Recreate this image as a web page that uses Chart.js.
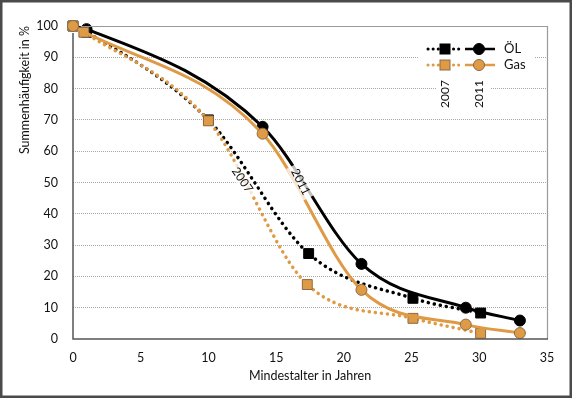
<!DOCTYPE html>
<html>
<head>
<meta charset="utf-8">
<script src="https://cdn.jsdelivr.net/npm/chart.js@4.4.1/dist/chart.umd.min.js"></script>
<style>
  html, body { margin: 0; padding: 0; background: #fff; }
  canvas { display: block; }
</style>
</head>
<body>
<canvas id="chart" width="572" height="398"></canvas>
<script>
// ---- data ----
const ageOil2007 = [0, 1, 10, 17.4, 25.1, 30.1];
const oil2007    = [100, 98, 70, 27.3, 13, 8.3];
const ageGas2007 = [0, 0.8, 10, 17.3, 25.1, 30.1];
const gas2007    = [100, 98, 69.7, 17.4, 6.6, 1.8];
const ageOil2011 = [0, 1, 14, 21.3, 29, 33];
const oil2011    = [100, 99, 67.8, 24, 10, 5.9];
const ageGas2011 = [0, 14, 21.3, 29, 33];
const gas2011    = [100, 65.6, 15.7, 4.6, 1.9];

const yearLabels  = ['2007', '2011'];
const yearLabelX  = [12.5, 16.8];
const yearLabelY  = [50.8, 50.2];
const fuelNames   = ['ÖL', 'Gas'];

const BLACK = '#000000';
const ORANGE = '#df9a45';
const ORANGE_EDGE = '#8c6a45';
const FONT = 'Lato, "Open Sans", sans-serif';

function pts(xs, ys) {
    return xs.map((x, i) => ({ x: x, y: ys[i] }));
}

const dotted = {
    borderWidth: 3.5,
    borderDash: [0.1, 6],
    borderCapStyle: 'round',
    cubicInterpolationMode: 'monotone',
    pointStyle: 'rect',
    pointRadius: 7,
    pointBorderWidth: 1,
    clip: false
};
const solid = {
    borderWidth: 3,
    cubicInterpolationMode: 'monotone',
    pointStyle: 'circle',
    pointRadius: 5.5,
    pointBorderWidth: 1,
    clip: false
};

// frame, inline year labels, legend
const decorPlugin = {
    id: 'decor',
    afterDatasetsDraw(chart) {
        const ctx = chart.ctx;
        const xs = chart.scales.x, ys = chart.scales.y;
        const angles = [55 * Math.PI / 180, 63 * Math.PI / 180];
        ctx.save();
        ctx.font = '12px ' + FONT;
        ctx.textAlign = 'center';
        ctx.textBaseline = 'middle';
        yearLabels.forEach((t, i) => {
            const px = xs.getPixelForValue(yearLabelX[i]);
            const py = ys.getPixelForValue(yearLabelY[i]);
            ctx.save();
            ctx.translate(px, py);
            ctx.rotate(angles[i]);
            const w = ctx.measureText(t).width;
            ctx.fillStyle = 'rgba(255,255,255,0.75)';
            ctx.fillRect(-w / 2 - 4, -7, w + 8, 14);
            ctx.fillStyle = '#111';
            ctx.fillText(t, 0, 0);
            ctx.restore();
        });
        ctx.restore();
    },
    afterDraw(chart) {
        const ctx = chart.ctx;
        const a = chart.chartArea;
        ctx.save();
        // plot frame
        ctx.lineWidth = 1.2;
        ctx.strokeStyle = '#9a9a9a';
        ctx.beginPath();
        ctx.moveTo(a.left + 8, a.top + 0.5);
        ctx.lineTo(a.right + 0.5, a.top + 0.5);
        ctx.lineTo(a.right + 0.5, a.bottom);
        ctx.stroke();
        ctx.lineWidth = 1.5;
        ctx.strokeStyle = '#555';
        ctx.beginPath();
        ctx.moveTo(a.left, a.top + 7);
        ctx.lineTo(a.left, a.bottom);
        ctx.lineTo(a.right + 1, a.bottom);
        ctx.stroke();

        // legend
        const lx = 428, rows = [49, 65];
        ctx.fillStyle = '#fff';
        ctx.fillRect(418, 38, 116, 37);
        ctx.fillRect(436, 78, 54, 32);
        rows.forEach((ry, i) => {
            const col = i === 0 ? BLACK : ORANGE;
            const edge = i === 0 ? BLACK : ORANGE_EDGE;
            // dotted 2007
            ctx.strokeStyle = col;
            ctx.lineWidth = 3;
            ctx.lineCap = 'round';
            ctx.setLineDash([0.1, 5]);
            ctx.beginPath();
            ctx.moveTo(lx, ry);
            ctx.lineTo(lx + 31, ry);
            ctx.stroke();
            ctx.setLineDash([]);
            ctx.lineCap = 'butt';
            ctx.fillStyle = col;
            ctx.strokeStyle = edge;
            ctx.lineWidth = 1;
            ctx.fillRect(lx + 12, ry - 5, 10, 10);
            ctx.strokeRect(lx + 12, ry - 5, 10, 10);
            // solid 2011
            ctx.strokeStyle = col;
            ctx.lineWidth = 2.5;
            ctx.beginPath();
            ctx.moveTo(lx + 37, ry);
            ctx.lineTo(lx + 67, ry);
            ctx.stroke();
            ctx.beginPath();
            ctx.arc(lx + 51, ry, 5.5, 0, Math.PI * 2);
            ctx.fillStyle = col;
            ctx.fill();
            ctx.strokeStyle = edge;
            ctx.lineWidth = 1;
            ctx.stroke();
            // name
            ctx.fillStyle = '#111';
            ctx.font = '13px ' + FONT;
            ctx.textAlign = 'left';
            ctx.textBaseline = 'middle';
            ctx.fillText(fuelNames[i], lx + 76, ry);
        });
        ctx.font = '12px ' + FONT;
        ctx.textAlign = 'center';
        ctx.textBaseline = 'middle';
        [lx + 17, lx + 51].forEach((cx, i) => {
            ctx.save();
            ctx.translate(cx, 94);
            ctx.rotate(-Math.PI / 2);
            ctx.fillText(yearLabels[i], 0, 0);
            ctx.restore();
        });

        // outer border
        ctx.strokeStyle = '#4a4a4a';
        ctx.lineWidth = 2.5;
        ctx.strokeRect(1.25, 1.25, chart.width - 2.5, chart.height - 2.5);
        ctx.restore();
    }
};

new Chart(document.getElementById('chart'), {
    type: 'line',
    data: {
        datasets: [
            { ...solid, label: 'Gas 2011', data: pts(ageGas2011, gas2011), order: 0,
              borderColor: ORANGE, pointBackgroundColor: ORANGE, pointBorderColor: ORANGE_EDGE },
            { ...dotted, label: 'Gas 2007', data: pts(ageGas2007, gas2007), order: 1,
              borderColor: ORANGE, pointBackgroundColor: ORANGE, pointBorderColor: ORANGE_EDGE },
            { ...solid, label: 'Öl 2011', data: pts(ageOil2011, oil2011), order: 2,
              pointRadius: [0, 5.5, 5.5, 5.5, 5.5, 5.5],
              borderColor: BLACK, pointBackgroundColor: BLACK, pointBorderColor: BLACK },
            { ...dotted, label: 'Öl 2007', data: pts(ageOil2007, oil2007), order: 3,
              borderColor: BLACK, pointBackgroundColor: BLACK, pointBorderColor: BLACK }
        ]
    },
    options: {
        responsive: false,
        animation: false,
        layout: { padding: { left: 0, right: 25, top: 26, bottom: 0 } },
        plugins: { legend: { display: false }, tooltip: { enabled: false } },
        scales: {
            x: {
                type: 'linear', min: 0, max: 35,
                afterFit: s => { s.height = 59; },
                grid: { display: false, drawTicks: false },
                border: { display: false },
                ticks: { stepSize: 5, padding: 11, color: '#111', font: { family: FONT, size: 12.5 } },
                title: { display: true, text: 'Mindestalter in Jahren', color: '#111',
                         padding: { top: 0, bottom: 15 }, font: { family: FONT, size: 12.5 } }
            },
            y: {
                min: 0, max: 100,
                afterFit: s => { s.width = 73; },
                grid: {
                    drawTicks: false,
                    lineWidth: 1,
                    color: c => (c.tick.value === 0 || c.tick.value === 100) ? 'rgba(0,0,0,0)' : '#a8a8a8'
                },
                border: { display: false, dash: [1, 1] },
                ticks: { stepSize: 10, padding: 15, color: '#111', font: { family: FONT, size: 12.5 } },
                title: { display: true, text: 'Summenhäufigkeit in %', align: 'end', color: '#111',
                         padding: { top: 17, bottom: 0 }, font: { family: FONT, size: 12.5 } }
            }
        }
    },
    plugins: [decorPlugin]
});
</script>
</body>
</html>
